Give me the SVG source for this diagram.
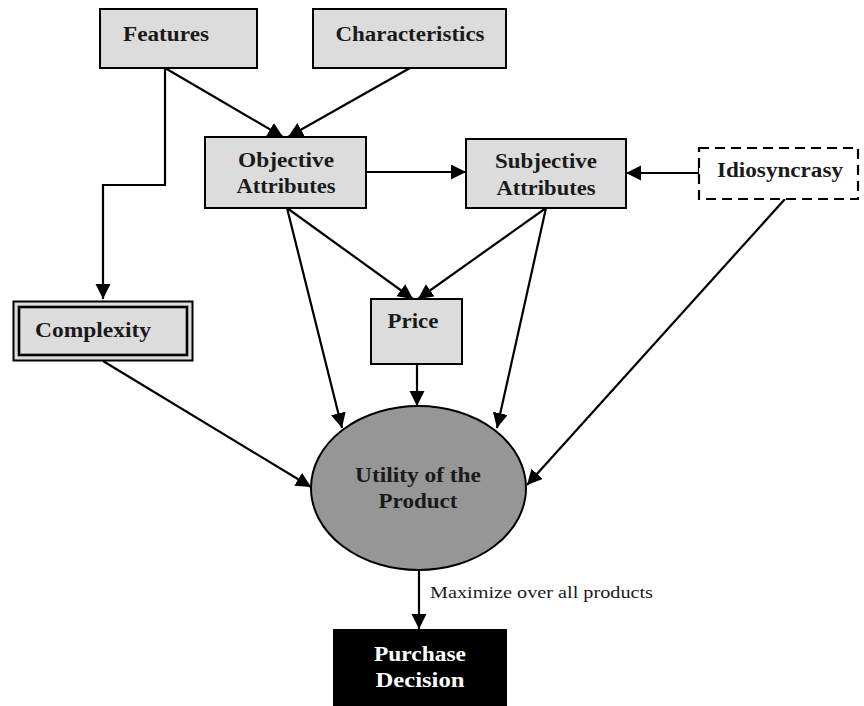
<svg xmlns="http://www.w3.org/2000/svg" width="864" height="706" viewBox="0 0 864 706">
<style>
.box{fill:#dcdcdc;stroke:#000;stroke-width:2}
.lbl{font-family:"Liberation Serif","Times New Roman",serif;font-weight:bold;font-size:20px;fill:#1a1a1a;text-anchor:middle}
.edge{fill:none;stroke:#000;stroke-width:2.2}
</style>
<defs>
<marker id="ah" markerUnits="userSpaceOnUse" markerWidth="16" markerHeight="16" refX="15" refY="7.5" orient="auto">
<path d="M0,0 L15,7.5 L0,15 z" fill="#000"/>
</marker>
</defs>
<rect width="864" height="706" fill="#fff"/>
<g id="connectors">
<polyline class="edge" points="165,68 165,185 103,185 103,299" marker-end="url(#ah)"/>
<line class="edge" x1="165" y1="68" x2="283" y2="137" marker-end="url(#ah)"/>
<line class="edge" x1="410" y1="68" x2="288" y2="137" marker-end="url(#ah)"/>
<line class="edge" x1="364" y1="172" x2="466" y2="172" marker-end="url(#ah)"/>
<line class="edge" x1="699" y1="173" x2="626" y2="173" marker-end="url(#ah)"/>
<line class="edge" x1="699" y1="168" x2="699" y2="178"/>
<line class="edge" x1="287" y1="208" x2="342" y2="428" marker-end="url(#ah)"/>
<line class="edge" x1="287" y1="208" x2="413" y2="299" marker-end="url(#ah)"/>
<line class="edge" x1="546" y1="208" x2="418" y2="299" marker-end="url(#ah)"/>
<line class="edge" x1="546" y1="208" x2="497" y2="428" marker-end="url(#ah)"/>
<line class="edge" x1="417" y1="364" x2="417" y2="406" marker-end="url(#ah)"/>
<line class="edge" x1="103" y1="361" x2="311" y2="487" marker-end="url(#ah)"/>
<line class="edge" x1="785" y1="199" x2="527" y2="485" marker-end="url(#ah)"/>
<line class="edge" x1="419" y1="570" x2="419" y2="629" marker-end="url(#ah)"/>
<text x="430" y="598" font-family="'Liberation Serif','Times New Roman',serif" font-size="17" fill="#1a1a1a" textLength="223" lengthAdjust="spacingAndGlyphs">Maximize over all products</text>
</g>
<g id="features">
<rect class="box" x="100" y="9" width="157" height="59"/>
<text class="lbl" x="166" y="41" textLength="86" lengthAdjust="spacingAndGlyphs">Features</text>
</g>
<g id="characteristics">
<rect class="box" x="313" y="9" width="193" height="59"/>
<text class="lbl" x="410" y="41" textLength="149" lengthAdjust="spacingAndGlyphs">Characteristics</text>
</g>
<g id="objective">
<rect class="box" x="205" y="137" width="161" height="71"/>
<text class="lbl" x="286" y="167" textLength="96" lengthAdjust="spacingAndGlyphs">Objective</text>
<text class="lbl" x="286" y="193" textLength="99" lengthAdjust="spacingAndGlyphs">Attributes</text>
</g>
<g id="subjective">
<rect class="box" x="466" y="139" width="160" height="69"/>
<text class="lbl" x="546" y="168" textLength="102" lengthAdjust="spacingAndGlyphs">Subjective</text>
<text class="lbl" x="546" y="195" textLength="99" lengthAdjust="spacingAndGlyphs">Attributes</text>
</g>
<g id="idiosyncrasy">
<rect x="699" y="148" width="159" height="51" fill="#fff" stroke="#000" stroke-width="2.2" stroke-dasharray="10,6"/>
<text class="lbl" x="780" y="177" textLength="126" lengthAdjust="spacingAndGlyphs">Idiosyncrasy</text>
</g>
<g id="complexity">
<rect x="13.5" y="301.5" width="179" height="59" fill="#dcdcdc" stroke="#000" stroke-width="2"/>
<rect x="19" y="307" width="168" height="48" fill="none" stroke="#000" stroke-width="2.6"/>
<text class="lbl" x="93" y="337" textLength="116" lengthAdjust="spacingAndGlyphs">Complexity</text>
</g>
<g id="price">
<rect class="box" x="371" y="299" width="91" height="65"/>
<text class="lbl" x="413" y="328" textLength="51" lengthAdjust="spacingAndGlyphs">Price</text>
</g>
<g id="utility">
<ellipse cx="418.5" cy="488" rx="107.5" ry="82" fill="#969696" stroke="#000" stroke-width="2"/>
<text class="lbl" x="418" y="482" textLength="126" lengthAdjust="spacingAndGlyphs">Utility of the</text>
<text class="lbl" x="418" y="508" textLength="79" lengthAdjust="spacingAndGlyphs">Product</text>
</g>
<g id="purchase">
<rect x="333" y="629" width="174" height="77" fill="#000"/>
<text class="lbl" x="420" y="661" fill="#fff" style="fill:#fff" textLength="92" lengthAdjust="spacingAndGlyphs">Purchase</text>
<text class="lbl" x="420" y="687" style="fill:#fff" textLength="89" lengthAdjust="spacingAndGlyphs">Decision</text>
</g>
</svg>
